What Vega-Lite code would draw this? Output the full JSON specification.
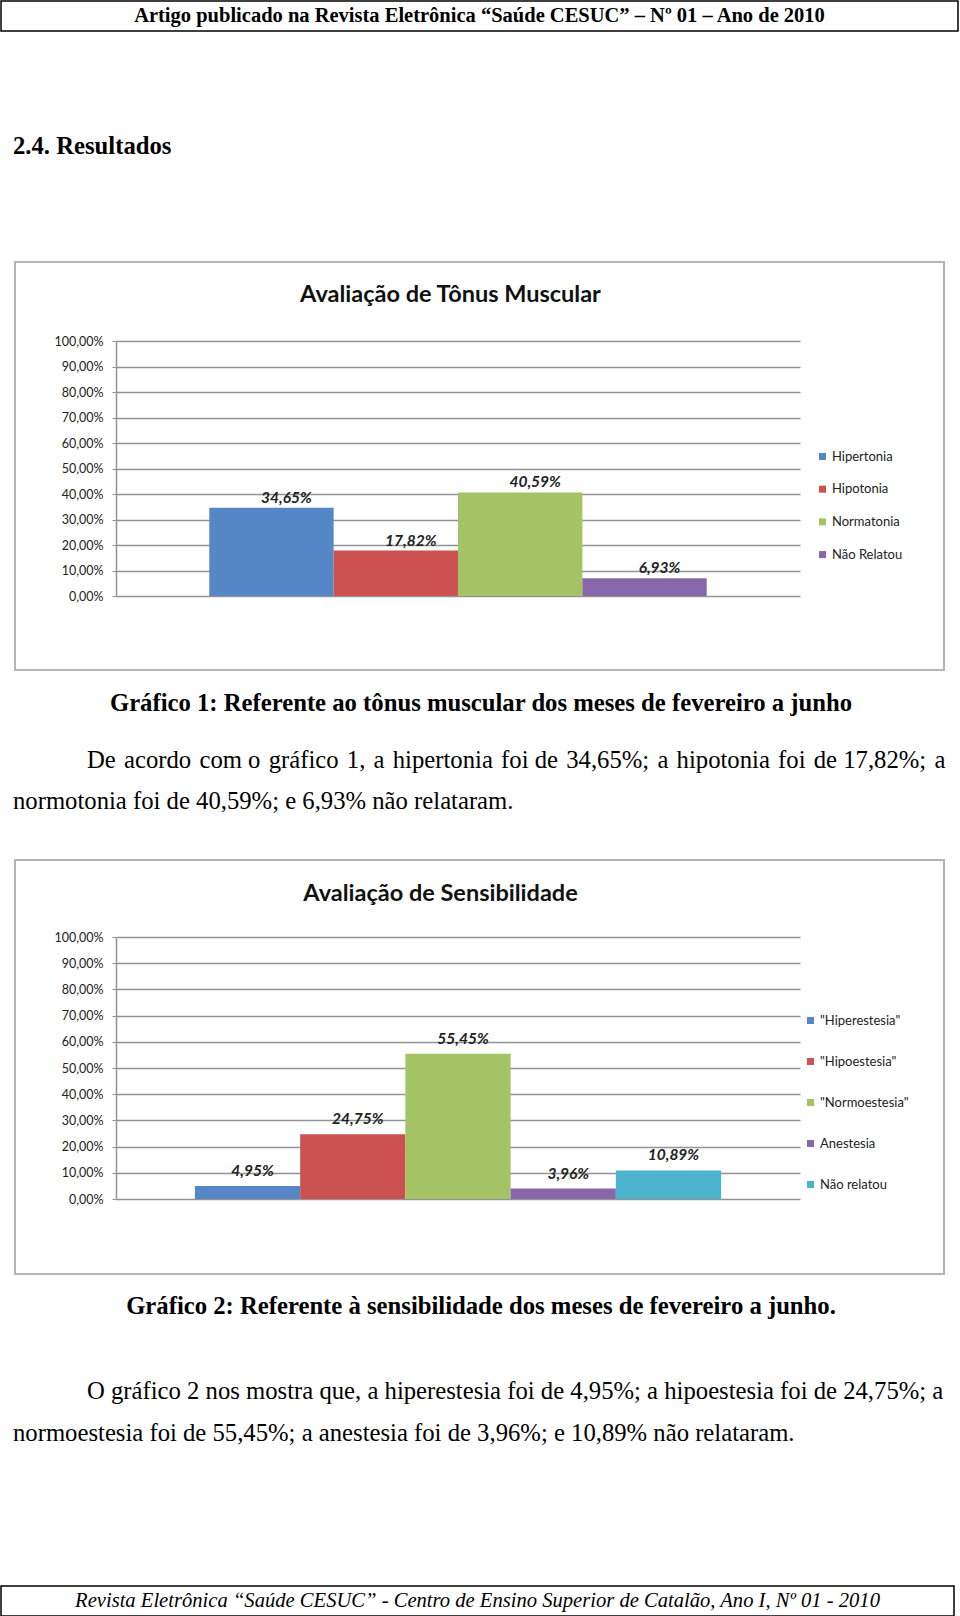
{
  "$schema": "https://vega.github.io/schema/vega-lite/v6.json",
  "padding": 0,
  "background": "white",
  "spacing": 0,
  "resolve": {"scale": {"color": "independent"}, "legend": {"color": "independent"}},
  "config": {
    "locale": {"number": {"decimal": ",", "thousands": ".", "grouping": [3], "currency": ["R$", ""]}},
    "view": {"stroke": null},
    "concat": {"spacing": 0}
  },
  "vconcat": [
    {
      "width": 957, "height": 30,
      "view": {"stroke": "black", "strokeWidth": 1.5},
      "data": {"values": [{"t": "Artigo publicado na Revista Eletrônica “Saúde CESUC” – Nº 01 – Ano de 2010"}]},
      "mark": {"type": "text", "font": "Liberation Serif", "fontSize": 20.5, "fontWeight": "bold", "align": "center", "baseline": "middle", "color": "black"},
      "encoding": {"text": {"field": "t"}}
    },
    {
      "width": 24, "height": 229,
      "data": {"values": [{"t": "2.4. Resultados"}]},
      "mark": {"type": "text", "font": "Liberation Serif", "fontSize": 24.7, "fontWeight": "bold", "align": "left", "baseline": "middle", "color": "black"},
      "encoding": {"text": {"field": "t"}}
    },
    {
      "spacing": 0,
      "hconcat": [
        {"width": 13, "height": 408, "data": {"values": []}, "mark": "text", "encoding": {}},
        {
          "width": 929, "height": 408,
          "view": {"stroke": "#b4b4b4", "strokeWidth": 2},
          "title": {"text": "Avaliação de Tônus Muscular", "font": "Lato", "fontSize": 23.5, "fontWeight": "bold", "color": "#111", "anchor": "middle", "frame": "group", "dx": -29, "offset": -56, "baseline": "middle"},
          "data": {"values": [
            {"categoria": "Hipertonia", "valor": 0.3465},
            {"categoria": "Hipotonia", "valor": 0.1782},
            {"categoria": "Normatonia", "valor": 0.4059},
            {"categoria": "Não Relatou", "valor": 0.0693}
          ]},
          "encoding": {
            "x": {"field": "categoria", "type": "nominal", "sort": null, "axis": null,
                  "scale": {"range": [101, 785], "paddingInner": 0, "paddingOuter": 0.75}},
            "y": {"field": "valor", "type": "quantitative",
                  "scale": {"domain": [0, 1], "range": [334, 79], "nice": false},
                  "axis": {"tickCount": 10, "format": ".2%", "offset": -101, "grid": true, "gridColor": "#939393", "gridWidth": 1.5,
                           "domain": true, "domainColor": "#939393", "domainWidth": 1.5, "ticks": true, "tickSize": 4, "tickColor": "#939393",
                           "labelPadding": 9, "labelFont": "Lato", "labelFontSize": 12.5, "labelColor": "#222", "title": null}}
          },
          "layer": [
            {
              "mark": {"type": "bar"},
              "encoding": {
                "color": {"field": "categoria", "type": "nominal", "sort": null,
                          "scale": {"range": ["#5586C6", "#CB5250", "#A4C364", "#8868AA"]},
                          "legend": {"orient": "none", "legendX": 815, "legendY": 188, "title": null, "symbolType": "square", "symbolSize": 49,
                                     "symbolStrokeWidth": 0, "labelFont": "Lato", "labelFontSize": 13, "labelColor": "#222", "rowPadding": 18.7, "padding": 0, "labelOffset": 3}}
              }
            },
            {
              "mark": {"type": "text", "font": "Lato", "fontSize": 15.5, "fontWeight": "bold", "fontStyle": "italic", "color": "#222", "baseline": "bottom", "dx": 15, "dy": -2},
              "encoding": {"text": {"field": "valor", "type": "quantitative", "format": ".2%"}}
            }
          ]
        }
      ]
    },
    {
      "width": 960, "height": 66,
      "data": {"values": [{"t": "Gráfico 1: Referente ao tônus muscular dos meses de fevereiro a junho"}]},
      "mark": {"type": "text", "font": "Liberation Serif", "fontSize": 24.7, "fontWeight": "bold", "align": "center", "baseline": "middle", "color": "black"},
      "encoding": {"text": {"field": "t"}}
    },
    {
      "width": 172, "height": 48,
      "data": {"values": [{"t": "De \u200aacordo \u200acom o \u200agráfico \u200a1, \u200aa \u200ahipertonia \u200afoi de \u200a34,65%; \u200aa \u200ahipotonia \u200afoi \u200ade 17,82%; \u200aa"}]},
      "mark": {"type": "text", "font": "Liberation Serif", "fontSize": 24.7, "align": "left", "baseline": "middle", "color": "black"},
      "encoding": {"text": {"field": "t"}}
    },
    {
      "width": 24, "height": 34,
      "data": {"values": [{"t": "normotonia foi de 40,59%; e 6,93% não relataram."}]},
      "mark": {"type": "text", "font": "Liberation Serif", "fontSize": 24.7, "align": "left", "baseline": "middle", "color": "black"},
      "encoding": {"text": {"field": "t"}}
    },
    {"width": 1, "height": 40, "data": {"values": []}, "mark": "text", "encoding": {}},
    {
      "spacing": 0,
      "hconcat": [
        {"width": 13, "height": 414, "data": {"values": []}, "mark": "text", "encoding": {}},
        {
          "width": 929, "height": 414,
          "view": {"stroke": "#b4b4b4", "strokeWidth": 2},
          "title": {"text": "Avaliação de Sensibilidade", "font": "Lato", "fontSize": 23.5, "fontWeight": "bold", "color": "#111", "anchor": "middle", "frame": "group", "dx": -39, "offset": -57, "baseline": "middle"},
          "data": {"values": [
            {"categoria": "\"Hiperestesia\"", "valor": 0.0495},
            {"categoria": "\"Hipoestesia\"", "valor": 0.2475},
            {"categoria": "\"Normoestesia\"", "valor": 0.5545},
            {"categoria": "Anestesia", "valor": 0.0396},
            {"categoria": "Não relatou", "valor": 0.1089}
          ]},
          "encoding": {
            "x": {"field": "categoria", "type": "nominal", "sort": null, "axis": null,
                  "scale": {"range": [101, 785], "paddingInner": 0, "paddingOuter": 0.75}},
            "y": {"field": "valor", "type": "quantitative",
                  "scale": {"domain": [0, 1], "range": [339, 77], "nice": false},
                  "axis": {"tickCount": 10, "format": ".2%", "offset": -101, "grid": true, "gridColor": "#939393", "gridWidth": 1.5,
                           "domain": true, "domainColor": "#939393", "domainWidth": 1.5, "ticks": true, "tickSize": 4, "tickColor": "#939393",
                           "labelPadding": 9, "labelFont": "Lato", "labelFontSize": 12.5, "labelColor": "#222", "title": null}}
          },
          "layer": [
            {
              "mark": {"type": "bar"},
              "encoding": {
                "color": {"field": "categoria", "type": "nominal", "sort": null,
                          "scale": {"range": ["#5586C6", "#CB5250", "#A4C364", "#8868AA", "#4DB3CE"]},
                          "legend": {"orient": "none", "legendX": 803, "legendY": 154, "title": null, "symbolType": "square", "symbolSize": 49,
                                     "symbolStrokeWidth": 0, "labelFont": "Lato", "labelFontSize": 13, "labelColor": "#222", "rowPadding": 27, "padding": 0, "labelOffset": 3}}
              }
            },
            {
              "mark": {"type": "text", "font": "Lato", "fontSize": 15.5, "fontWeight": "bold", "fontStyle": "italic", "color": "#222", "baseline": "bottom", "dx": 5, "dy": -7},
              "encoding": {"text": {"field": "valor", "type": "quantitative", "format": ".2%"}}
            }
          ]
        }
      ]
    },
    {
      "width": 960, "height": 64,
      "data": {"values": [{"t": "Gráfico 2: Referente à sensibilidade dos meses de fevereiro a junho."}]},
      "mark": {"type": "text", "font": "Liberation Serif", "fontSize": 24.7, "fontWeight": "bold", "align": "center", "baseline": "middle", "color": "black"},
      "encoding": {"text": {"field": "t"}}
    },
    {"width": 1, "height": 31, "data": {"values": []}, "mark": "text", "encoding": {}},
    {
      "width": 172, "height": 44,
      "data": {"values": [{"t": "O gráfico 2 nos mostra que, a hiperestesia foi de 4,95%; a hipoestesia foi de 24,75%; a"}]},
      "mark": {"type": "text", "font": "Liberation Serif", "fontSize": 24.7, "align": "left", "baseline": "middle", "color": "black"},
      "encoding": {"text": {"field": "t"}}
    },
    {
      "width": 24, "height": 40,
      "data": {"values": [{"t": "normoestesia foi de 55,45%; a anestesia foi de 3,96%; e 10,89% não relataram."}]},
      "mark": {"type": "text", "font": "Liberation Serif", "fontSize": 24.7, "align": "left", "baseline": "middle", "color": "black"},
      "encoding": {"text": {"field": "t"}}
    },
    {"width": 1, "height": 131, "data": {"values": []}, "mark": "text", "encoding": {}},
    {
      "width": 953, "height": 30,
      "view": {"stroke": "black", "strokeWidth": 1.5},
      "data": {"values": [{"t": "Revista Eletrônica “Saúde CESUC” - Centro de Ensino Superior de Catalão, Ano I, Nº 01 - 2010"}]},
      "mark": {"type": "text", "font": "Liberation Serif", "fontSize": 20.6, "fontStyle": "italic", "align": "center", "baseline": "middle", "color": "black"},
      "encoding": {"text": {"field": "t"}}
    }
  ]
}
